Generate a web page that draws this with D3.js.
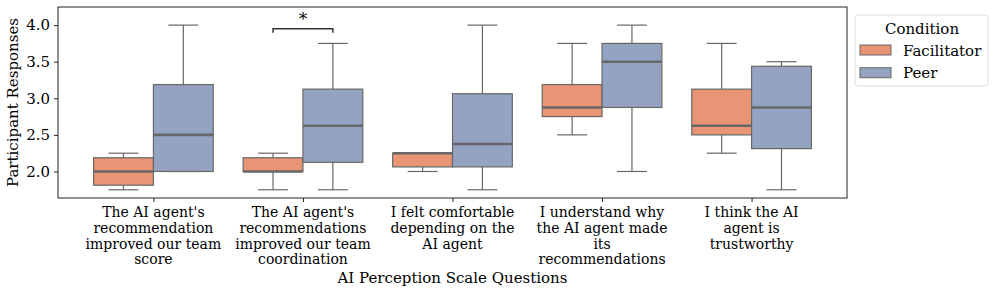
<!DOCTYPE html>
<html lang="en">
<head>
<meta charset="UTF-8">
<title>AI Perception Scale</title>
<style>
    body { margin: 0; background: #fff; }
    svg text { font-family: "DejaVu Serif", serif; fill: #000; }
</style>
</head>
<body>
<div id="chart"></div>
<script src="https://d3js.org/d3.v7.min.js"></script>
<script>
// categories (x axis), split in lines as in the figure
const categories = [
    ["The AI agent's", "recommendation", "improved our team", "score"],
    ["The AI agent's", "recommendations", "improved our team", "coordination"],
    ["I felt comfortable", "depending on the", "AI agent"],
    ["I understand why", "the AI agent made", "its", "recommendations"],
    ["I think the AI", "agent is", "trustworthy"]
];
const conditions = ["Facilitator", "Peer"];

// box stats per question: [lower whisker, q1, median, q3, upper whisker]
const facilitator = [
    [1.75, 1.8125, 2.0, 2.1875, 2.25],
    [1.75, 2.0, 2.0, 2.1875, 2.25],
    [2.0, 2.0625, 2.25, 2.25, 2.25],
    [2.5, 2.75, 2.875, 3.1875, 3.75],
    [2.25, 2.5, 2.625, 3.125, 3.75]
];
const peer = [
    [2.0, 2.0, 2.5, 3.1875, 4.0],
    [1.75, 2.125, 2.625, 3.125, 3.75],
    [1.75, 2.0625, 2.375, 3.0625, 4.0],
    [2.0, 2.875, 3.5, 3.75, 4.0],
    [1.75, 2.3125, 2.875, 3.4375, 3.5]
];
const yTicks = [2.0, 2.5, 3.0, 3.5, 4.0];
// significance bracket: question index, height, label
const annotations = [{ cat: 1, y: 3.95, label: "*" }];

const width = 996, height = 294;
const m = { left: 58, right: 149, top: 7, bottom: 96 };
const colors = ["#e99575", "#95a3c3"];
const gray = "#676767";

const svg = d3.select("#chart").append("svg")
    .attr("width", width)
    .attr("height", height);

const x = d3.scaleLinear()
    .domain([-0.638, 4.638])
    .range([m.left, width - m.right]);
const y = d3.scaleLinear()
    .domain([1.6375, 4.2475])
    .range([height - m.bottom, m.top]);

const band = x(1) - x(0);
const boxW = band * 0.4;

// y axis
const yAxis = svg.append("g")
    .attr("transform", `translate(${m.left},0)`)
    .call(d3.axisLeft(y).tickValues(yTicks).tickFormat(d3.format(".1f")).tickSize(4).tickPadding(4));
yAxis.select(".domain").remove();
yAxis.selectAll("line").attr("stroke", "#222");
yAxis.selectAll("text").style("font-size", "15px").style("font-family", "DejaVu Serif");

// x axis ticks
const xAxis = svg.append("g")
    .attr("transform", `translate(0,${height - m.bottom})`)
    .call(d3.axisBottom(x).tickValues(d3.range(categories.length)).tickSize(4).tickFormat(""));
xAxis.select(".domain").remove();
xAxis.selectAll("line").attr("stroke", "#222");

// category labels
categories.forEach((lines, i) => {
    const t = svg.append("text")
        .attr("x", x(i))
        .attr("y", height - m.bottom + 19)
        .attr("text-anchor", "middle")
        .style("font-size", "14px");
    lines.forEach((ln, j) => {
        t.append("tspan")
            .attr("x", x(i))
            .attr("dy", j === 0 ? 0 : 15.8)
            .text(ln);
    });
});

// boxes
[facilitator, peer].forEach((series, s) => {
    series.forEach((d, i) => {
        const cx = x(i) + (s === 0 ? -boxW / 2 : boxW / 2);
        const g = svg.append("g");
        // whiskers
        g.append("line")
            .attr("x1", cx).attr("x2", cx)
            .attr("y1", y(d[0])).attr("y2", y(d[1]))
            .attr("stroke", gray).attr("stroke-width", 1.2);
        g.append("line")
            .attr("x1", cx).attr("x2", cx)
            .attr("y1", y(d[3])).attr("y2", y(d[4]))
            .attr("stroke", gray).attr("stroke-width", 1.2);
        [d[0], d[4]].forEach(v => {
            g.append("line")
                .attr("x1", cx - boxW / 4).attr("x2", cx + boxW / 4)
                .attr("y1", y(v)).attr("y2", y(v))
                .attr("stroke", gray).attr("stroke-width", 1.2);
        });
        g.append("rect")
            .attr("x", cx - boxW / 2)
            .attr("y", y(d[3]))
            .attr("width", boxW)
            .attr("height", Math.max(0.01, y(d[1]) - y(d[3])))
            .attr("fill", colors[s])
            .attr("stroke", gray)
            .attr("stroke-width", 1.2);
        g.append("line")
            .attr("x1", cx - boxW / 2).attr("x2", cx + boxW / 2)
            .attr("y1", y(d[2])).attr("y2", y(d[2]))
            .attr("stroke", gray).attr("stroke-width", 2.6);
    });
});

// significance annotation
annotations.forEach(a => {
    const x1 = x(a.cat) - boxW / 2, x2 = x(a.cat) + boxW / 2;
    const yt = y(a.y);
    svg.append("path")
        .attr("d", `M${x1},${yt + 4}V${yt}H${x2}V${yt + 4}`)
        .attr("fill", "none")
        .attr("stroke", "#333")
        .attr("stroke-width", 1.5);
    svg.append("text")
        .attr("x", x(a.cat))
        .attr("y", yt - 4)
        .attr("text-anchor", "middle")
        .style("font-size", "17px")
        .text(a.label);
});

// frame
svg.append("rect")
    .attr("x", m.left)
    .attr("y", m.top)
    .attr("width", width - m.left - m.right)
    .attr("height", height - m.top - m.bottom)
    .attr("fill", "none")
    .attr("stroke", "#222")
    .attr("stroke-width", 1);

// axis titles
svg.append("text")
    .attr("x", (m.left + width - m.right) / 2)
    .attr("y", 283)
    .attr("text-anchor", "middle")
    .style("font-size", "15px")
    .text("AI Perception Scale Questions");
svg.append("text")
    .attr("transform", `translate(18,${(m.top + height - m.bottom) / 2}) rotate(-90)`)
    .attr("text-anchor", "middle")
    .style("font-size", "15px")
    .text("Participant Responses");

// legend
const lg = svg.append("g").attr("transform", "translate(855,15)");
lg.append("rect")
    .attr("width", 133).attr("height", 71)
    .attr("rx", 3)
    .attr("fill", "#fff")
    .attr("stroke", "#ddd");
lg.append("text")
    .attr("x", 67).attr("y", 19)
    .attr("text-anchor", "middle")
    .style("font-size", "15px")
    .text("Condition");
conditions.forEach((c, i) => {
    lg.append("rect")
        .attr("x", 5).attr("y", 30 + i * 22.7)
        .attr("width", 31).attr("height", 10)
        .attr("fill", colors[i])
        .attr("stroke", gray)
        .attr("stroke-width", 1);
    lg.append("text")
        .attr("x", 48).attr("y", 40.5 + i * 22.7)
        .style("font-size", "15px")
        .text(c);
});
</script>
</body>
</html>
